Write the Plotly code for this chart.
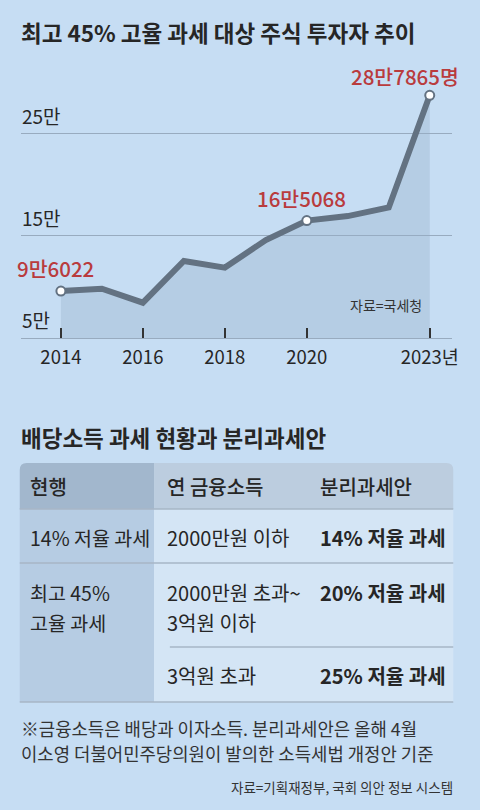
import plotly.graph_objects as go

# 최고 45% 고율 과세 대상 주식 투자자 (명)
years = [2014, 2015, 2016, 2017, 2018, 2019, 2020, 2021, 2022, 2023]
investors = [96022, 98300, 84600, 125500, 119000, 146000, 165068, 169500, 178000, 287865]

y_tickvals = [50000, 150000, 250000]
y_ticktext = ['5만', '15만', '25만']
x_tickvals = [2014, 2016, 2018, 2020, 2023]
x_ticktext = ['2014', '2016', '2018', '2020', '2023년']

# highlighted points: (year, label, xshift, yshift)
callouts = [
    (2014, '9만6022', -5, 23),
    (2020, '16만5068', -5, 23),
    (2023, '28만7865명', -25, 19),
]

# 배당소득 과세 현황과 분리과세안
table_header = ['현행', '연 금융소득', '분리과세안']
current_rule = [['14% 저율 과세'], ['최고 45%', '고율 과세']]
income_brackets = [['2000만원 이하'], ['2000만원 초과~', '3억원 이하'], ['3억원 초과']]
proposal_rates = ['14% 저율 과세', '20% 저율 과세', '25% 저율 과세']

title_main = '최고 45% 고율 과세 대상 주식 투자자 추이'
title_table = '배당소득 과세 현황과 분리과세안'
note_lines = ['※금융소득은 배당과 이자소득. 분리과세안은 올해 4월',
              '이소영 더불어민주당의원이 발의한 소득세법 개정안 기준']
source_chart = '자료=국세청'
source_table = '자료=기획재정부, 국회 의안 정보 시스템'

W, H = 480, 810
BG = '#c6ddf3'
LINE = '#637282'
RED = '#b93b3d'
TXT = '#262626'
FONT = 'Noto Sans CJK KR, sans-serif'


def px(x):
    return x / W


def py(y):
    return 1 - y / H


fig = go.Figure()

fig.add_trace(go.Scatter(
    x=years, y=investors,
    mode='lines',
    line=dict(color=LINE, width=6),
    fill='tozeroy',
    fillcolor='rgba(150,175,200,0.35)',
    hoverinfo='skip',
    showlegend=False,
))

hl_x = [c[0] for c in callouts]
hl_y = [investors[years.index(c[0])] for c in callouts]
fig.add_trace(go.Scatter(
    x=hl_x, y=hl_y,
    mode='markers',
    marker=dict(size=9, color='white', line=dict(color=LINE, width=2)),
    hoverinfo='skip',
    showlegend=False,
))

annotations = []
for (yr, label, dx, dy), val in zip(callouts, hl_y):
    annotations.append(dict(
        x=yr, y=val, xref='x', yref='y', text=label, showarrow=False,
        xanchor='center', yanchor='middle', xshift=dx, yshift=dy,
        font=dict(size=20.5, color=RED, family=FONT, weight=500),
    ))

# y tick labels sit above their gridlines, inside the plot
for v, t in zip(y_tickvals, y_ticktext):
    annotations.append(dict(
        x=px(20), y=v, xref='paper', yref='y', text=t, showarrow=False,
        xanchor='left', yanchor='bottom', yshift=3,
        font=dict(size=19, color=TXT, family=FONT),
    ))

# titles and notes
annotations.append(dict(x=px(19), y=py(32), xref='paper', yref='paper',
                        text='<b>' + title_main + '</b>', showarrow=False,
                        xanchor='left', yanchor='middle',
                        font=dict(size=22.5, color=TXT, family=FONT)))
annotations.append(dict(x=px(352), y=py(305), xref='paper', yref='paper',
                        text=source_chart, showarrow=False,
                        xanchor='left', yanchor='middle',
                        font=dict(size=14, color='#333333', family=FONT)))
annotations.append(dict(x=px(19), y=py(437), xref='paper', yref='paper',
                        text='<b>' + title_table + '</b>', showarrow=False,
                        xanchor='left', yanchor='middle',
                        font=dict(size=22.5, color=TXT, family=FONT)))
for i, line in enumerate(note_lines):
    annotations.append(dict(x=px(19), y=py(728 + 25 * i), xref='paper', yref='paper',
                            text=line, showarrow=False,
                            xanchor='left', yanchor='middle',
                            font=dict(size=17.8, color='#333333', family=FONT)))
annotations.append(dict(x=px(461), y=py(787), xref='paper', yref='paper',
                        text=source_table, showarrow=False,
                        xanchor='right', yanchor='middle',
                        font=dict(size=13.5, color='#333333', family=FONT)))

# ---- table ----
tx0, tx1, tx2 = 20, 156, 459
ty_head, ty_r1, ty_r2, ty_r3, ty_end = 463, 509, 563, 647, 702
col_x = [28, 167, 322]
r = 7


def rounded_top(x0, x1, y0, y1, left, right):
    X0, X1 = px(x0), px(x1)
    Y0, Y1 = py(y0), py(y1)
    rx, ry = r / W, r / H
    path = f'M {X0},{Y1} '
    if left:
        path += f'L {X0},{Y0 - ry} Q {X0},{Y0} {X0 + rx},{Y0} '
    else:
        path += f'L {X0},{Y0} '
    if right:
        path += f'L {X1 - rx},{Y0} Q {X1},{Y0} {X1},{Y0 - ry} '
    else:
        path += f'L {X1},{Y0} '
    path += f'L {X1},{Y1} Z'
    return path


shapes = [
    dict(type='path', xref='paper', yref='paper', layer='below',
         path=rounded_top(tx0, tx1, ty_head, ty_r1, True, False),
         fillcolor='#a2b7cd', line=dict(width=0)),
    dict(type='path', xref='paper', yref='paper', layer='below',
         path=rounded_top(tx1, tx2, ty_head, ty_r1, False, True),
         fillcolor='#bccddf', line=dict(width=0)),
    dict(type='rect', xref='paper', yref='paper', layer='below',
         x0=px(tx0), x1=px(tx1), y0=py(ty_r1), y1=py(ty_end),
         fillcolor='#b6cce3', line=dict(width=0)),
    dict(type='rect', xref='paper', yref='paper', layer='below',
         x0=px(tx1), x1=px(tx2), y0=py(ty_r1), y1=py(ty_end),
         fillcolor='#d4e5f5', line=dict(width=0)),
]
for x0, yy in [(tx0, ty_r1), (tx0, ty_r2), (172, ty_r3), (tx0, ty_end)]:
    shapes.append(dict(type='line', xref='paper', yref='paper',
                       x0=px(x0), x1=px(tx2), y0=py(yy), y1=py(yy),
                       line=dict(color='#a7b6c6', width=1.5)))


def cell(x, y, text, bold=False, weight=400, size=20):
    annotations.append(dict(x=px(x), y=py(y), xref='paper', yref='paper',
                            text=('<b>' + text + '</b>') if bold else text,
                            showarrow=False, xanchor='left', yanchor='middle',
                            font=dict(size=size, color=TXT, family=FONT, weight=weight)))


for cx, h in zip(col_x, table_header):
    cell(cx, 487, h, weight=500)

row_tops = [537, 592, 675]
for i, lines in enumerate(current_rule):
    for j, t in enumerate(lines):
        cell(col_x[0], row_tops[i] + 30 * j, t, size=19.5)
for i, lines in enumerate(income_brackets):
    for j, t in enumerate(lines):
        cell(col_x[1], row_tops[i] + 30 * j, t)
for i, t in enumerate(proposal_rates):
    cell(col_x[2], row_tops[i], t, bold=True)

fig.update_layout(
    width=W, height=H,
    margin=dict(l=0, r=0, t=0, b=0),
    paper_bgcolor=BG, plot_bgcolor=BG,
    font=dict(family=FONT, color=TXT),
    annotations=annotations,
    shapes=shapes,
    xaxis=dict(
        domain=[px(21), px(458)],
        range=[2013.02, 2023.55],
        tickvals=x_tickvals, ticktext=x_ticktext,
        ticks='inside', ticklen=10, tickwidth=1.5, tickcolor='#333333',
        ticklabelstandoff=3,
        showgrid=False, zeroline=False,
        showline=True, linecolor='#98abbf', linewidth=1,
        tickfont=dict(size=18.5, color=TXT, family=FONT),
        fixedrange=True,
    ),
    yaxis=dict(
        domain=[py(338), py(60)],
        range=[50000, 322500],
        tickvals=y_tickvals,
        showticklabels=False,
        showgrid=True, gridcolor='#98abbf', gridwidth=1,
        zeroline=False, showline=False, ticks='',
        fixedrange=True,
    ),
)

fig.write_html('out.html',
               config={'displayModeBar': False},
               post_script="document.body.style.margin='0';"
                           "document.body.style.overflow='hidden';")
